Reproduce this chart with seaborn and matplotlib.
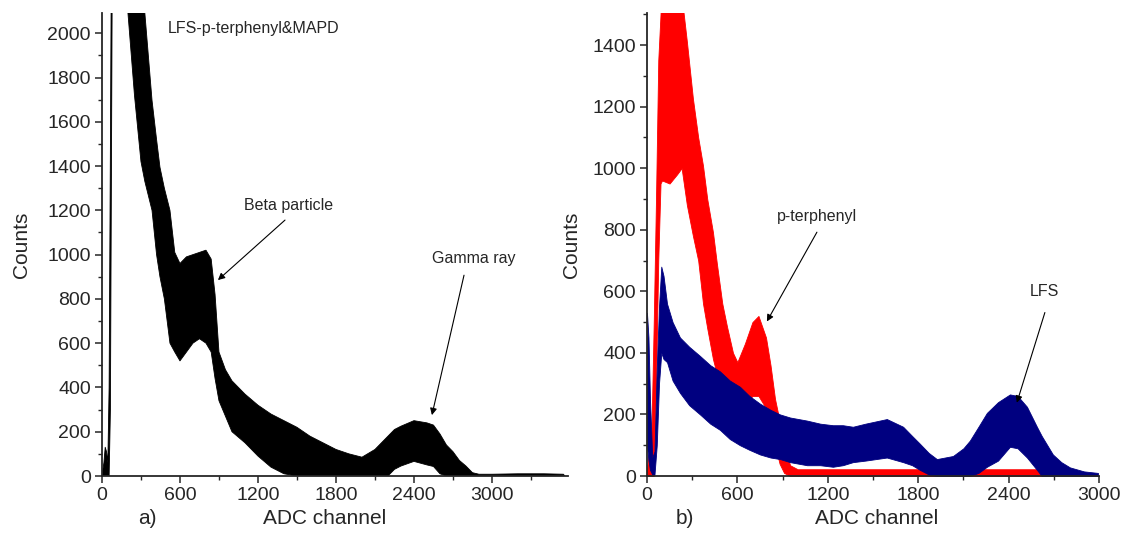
import numpy as np
import pandas as pd
import seaborn as sns
import matplotlib.pyplot as plt
from matplotlib.ticker import MultipleLocator

# Left panel: LFS-p-terphenyl & MAPD spectrum (lower / upper edge of the noisy trace)
a_channel = [0, 15, 25, 35, 45, 55, 65, 78, 120, 200, 250, 300, 330, 385, 420, 446, 480, 523,
             560, 600, 650, 700, 750, 800, 840, 870, 900, 950, 1000, 1100, 1200, 1300, 1400,
             1500, 1600, 1700, 1800, 1900, 2000, 2100, 2200, 2250, 2300, 2400, 2500, 2550,
             2600, 2650, 2700, 2750, 2800, 2850, 2900, 3000, 3200, 3400, 3550, 3560]
a_lower = [0, 0, 0, 0, 0, 0, 300, 2100, 2300, 2090, 1720, 1420, 1330, 1200, 1000, 900, 800, 600,
           560, 520, 560, 600, 620, 600, 560, 440, 340, 270, 200, 150, 90, 40, 10,
           0, 0, 0, 0, 0, 0, 0, 0, 30, 45, 66, 50, 43,
           10, 0, 0, 0, 0, 0, 0, 0, 0, 0, 0, 0]
a_upper = [5, 60, 130, 110, 60, 400, 1500, 3000, 3000, 3000, 2650, 2300, 2090, 1697, 1520, 1395, 1300, 1200,
           1010, 960, 990, 1000, 1010, 1020, 980, 820, 560, 480, 430, 370, 320, 280, 250,
           220, 180, 150, 120, 100, 85, 120, 180, 210, 225, 250, 240, 230,
           190, 140, 110, 70, 45, 15, 8, 8, 10, 10, 8, 0]

# Right panel: p-terphenyl (red) and LFS (blue)
p_channel = [0, 30, 45, 60, 75, 90, 100, 150, 200, 230, 265, 305, 340, 372, 400, 438, 464, 500,
             531, 571, 600, 650, 700, 740, 790, 820, 850, 880, 910, 950, 1000, 1500, 2000,
             2400, 2640, 2650]
p_lower = [0, 0, 0, 300, 700, 950, 960, 950, 980, 1000, 880, 780, 700, 560, 480, 380, 330, 280,
           250, 230, 220, 230, 260, 260, 220, 170, 100, 40, 10, 0, 0, 0, 0,
           0, 0, 0]
p_upper = [20, 150, 500, 900, 1350, 1500, 1600, 1600, 1600, 1560, 1411, 1226, 1100, 1008, 900, 792, 690, 560,
           486, 400, 370, 430, 500, 520, 450, 360, 250, 180, 100, 35, 22, 22, 22,
           22, 22, 0]

l_channel = [0, 10, 20, 35, 50, 65, 80, 95, 110, 133, 170, 219, 280, 352, 420, 484, 550, 617,
             680, 750, 820, 883, 950, 1062, 1150, 1234, 1300, 1367, 1450, 1592, 1700, 1760,
             1811, 1870, 1924, 2031, 2100, 2143, 2200, 2256, 2330, 2409, 2460, 2522, 2588,
             2620, 2694, 2750, 2807, 2900, 2993]
l_lower = [100, 50, 20, 5, 5, 100, 300, 400, 380, 370, 310, 270, 230, 200, 170, 150, 120, 100,
           85, 70, 60, 55, 45, 35, 35, 30, 35, 45, 50, 60, 45, 35,
           20, 5, 0, 0, 0, 0, 10, 30, 50, 95, 90, 60, 20,
           0, 0, 0, 0, 0, 0]
l_upper = [530, 450, 250, 60, 80, 350, 550, 680, 650, 560, 500, 450, 420, 390, 360, 340, 310, 290,
           260, 235, 215, 200, 190, 180, 170, 165, 165, 160, 170, 185, 160, 130,
           105, 75, 55, 65, 90, 115, 160, 205, 240, 265, 260, 225, 160,
           130, 70, 45, 28, 15, 10]


def band_frame(channel, lower, upper):
    return pd.DataFrame({'channel': channel + channel, 'counts': lower + upper})


sns.set_style("ticks")
plt.rcParams['font.family'] = ['Liberation Sans', 'DejaVu Sans']
plt.rcParams['xtick.direction'] = 'out'
plt.rcParams['ytick.direction'] = 'out'

narrow = ['Liberation Sans Narrow', 'Liberation Sans', 'DejaVu Sans']

fig = plt.figure(figsize=(11.23, 5.45), dpi=100)
ax1 = fig.add_axes([0.0908, 0.1266, 0.4150, 0.8490])
ax2 = fig.add_axes([0.5761, 0.1266, 0.4025, 0.8490])


def draw_band(ax, channel, lower, upper, color):
    sns.lineplot(data=band_frame(channel, lower, upper), x='channel', y='counts', ax=ax,
                 estimator='mean', errorbar=('pi', 100), color=color, linewidth=0,
                 err_kws={'alpha': 1, 'linewidth': 0.6, 'edgecolor': color})


draw_band(ax1, a_channel, a_lower, a_upper, 'black')
draw_band(ax2, p_channel, p_lower, p_upper, '#ff0000')
draw_band(ax2, l_channel, l_lower, l_upper, '#000080')

ax1.set_xlim(0, 3585)
ax1.set_ylim(0, 2090)
ax2.set_xlim(0, 3000)
ax2.set_ylim(0, 1503)

for ax in (ax1, ax2):
    ax.xaxis.set_major_locator(MultipleLocator(600))
    ax.xaxis.set_minor_locator(MultipleLocator(300))
    ax.yaxis.set_major_locator(MultipleLocator(200))
    ax.yaxis.set_minor_locator(MultipleLocator(100))
    ax.tick_params(which='major', length=5, width=1.1, labelsize=14, pad=3)
    ax.tick_params(which='minor', length=3, width=1.0)
    for side in ('top', 'right'):
        ax.spines[side].set_visible(False)
    for side in ('left', 'bottom'):
        ax.spines[side].set_linewidth(1.3)
    ax.set_xlabel('')
    ax.set_ylabel('')

arrow = dict(arrowstyle='-|>', color='black', lw=0.8, mutation_scale=10, shrinkA=0, shrinkB=0)
note = dict(family=narrow, fontsize=11.5, va='center', ha='center')

ax1.text(508, 2022, 'LFS-p-terphenyl&MAPD', **{**note, 'ha': 'left'})
ax1.text(1438, 1223, 'Beta particle', **note)
ax1.annotate('', xy=(892, 885), xytext=(1408, 1156), arrowprops=arrow)
ax1.text(2862, 984, 'Gamma ray', **note)
ax1.annotate('', xy=(2538, 275), xytext=(2785, 907), arrowprops=arrow)

ax2.text(1128, 844, 'p-terphenyl', **note)
ax2.annotate('', xy=(796, 502), xytext=(1128, 792), arrowprops=arrow)
ax2.text(2641, 600, 'LFS', **note)
ax2.annotate('', xy=(2455, 238), xytext=(2641, 531), arrowprops=arrow)

fig.text(22 / 1123, 1 - 245 / 545, 'Counts', rotation=90, fontsize=15, ha='center', va='center')
fig.text(572 / 1123, 1 - 245 / 545, 'Counts', rotation=90, fontsize=15, ha='center', va='center')
fig.text(325 / 1123, 1 - 519 / 545, 'ADC channel', fontsize=15, ha='center', va='center')
fig.text(877 / 1123, 1 - 519 / 545, 'ADC channel', fontsize=15, ha='center', va='center')
fig.text(147 / 1123, 1 - 519 / 545, 'a)', fontsize=15, ha='center', va='center')
fig.text(685 / 1123, 1 - 519 / 545, 'b)', fontsize=15, ha='center', va='center')

fig.savefig('out.png', dpi=100)
